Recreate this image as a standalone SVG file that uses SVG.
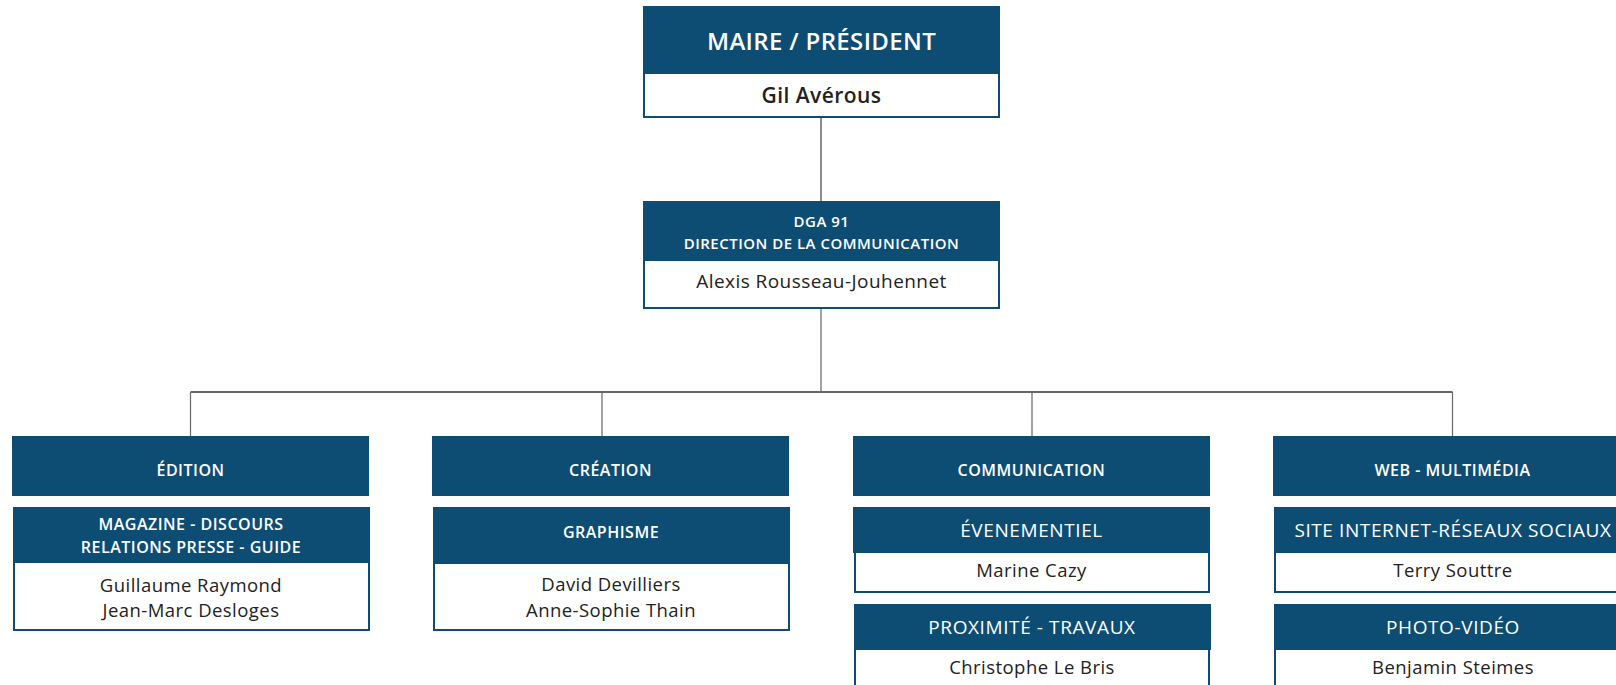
<svg xmlns="http://www.w3.org/2000/svg" width="1616" height="685" viewBox="0 0 1616 685">
<style>
.hd{fill:#0d4d74}
.bd{fill:#fff;stroke:#0d4d74;stroke-width:2}
text{font-family:"Open Sans","Noto Sans",sans-serif;text-anchor:middle}
.w{fill:#fff}
.b{font-weight:600;letter-spacing:0.5px}
.k{fill:#222;letter-spacing:0.45px}
.r{letter-spacing:0.6px}
.c{stroke:#666;fill:none}
</style>
<rect width="1616" height="685" fill="#fff"/>
<g id="connectors">
<line class="c" x1="821" y1="118" x2="821" y2="201" stroke-width="1.5"/>
<line class="c" x1="821" y1="309" x2="821" y2="392" stroke-width="1.2"/>
<line class="c" x1="190.5" y1="392" x2="1452.5" y2="392" stroke-width="2" stroke="#888"/>
<line class="c" x1="190.5" y1="392" x2="190.5" y2="436" stroke-width="1.2"/>
<line class="c" x1="602" y1="392" x2="602" y2="436" stroke-width="1.2"/>
<line class="c" x1="1032" y1="392" x2="1032" y2="436" stroke-width="1.2"/>
<line class="c" x1="1452.5" y1="392" x2="1452.5" y2="436" stroke-width="1.2"/>
</g>
<g id="maire">
<rect class="bd" x="644" y="70" width="355" height="47"/>
<rect class="hd" x="643" y="6" width="357" height="68"/>
<text class="w" x="821.5" y="50" font-size="24" font-weight="600" letter-spacing="0.35">MAIRE / PRÉSIDENT</text>
<text class="k" x="821.5" y="103" font-size="21" font-weight="600" letter-spacing="0.3">Gil Avérous</text>
</g>
<g id="dga">
<rect class="bd" x="644" y="258" width="355" height="50"/>
<rect class="hd" x="643" y="201" width="357" height="60"/>
<text class="w b" x="821.5" y="227" font-size="15" letter-spacing="0.8">DGA 91</text>
<text class="w b" x="821.5" y="249" font-size="15" letter-spacing="0.82">DIRECTION DE LA COMMUNICATION</text>
<text class="k" x="821.5" y="288" font-size="19" font-weight="500" letter-spacing="0.7">Alexis Rousseau-Jouhennet</text>
</g>
<g id="edition">
<rect class="hd" x="12" y="436" width="357" height="60"/>
<text class="w b" x="190.5" y="476" font-size="16">ÉDITION</text>
</g>
<g id="magazine">
<rect class="bd" x="14" y="560" width="355" height="70"/>
<rect class="hd" x="13" y="507" width="357" height="56"/>
<text class="w b" x="191" y="530" font-size="16">MAGAZINE - DISCOURS</text>
<text class="w b" x="191" y="553" font-size="16">RELATIONS PRESSE - GUIDE</text>
<text class="k" x="191" y="592" font-size="18.5">Guillaume Raymond</text>
<text class="k" x="191" y="617" font-size="18.5">Jean-Marc Desloges</text>
</g>
<g id="creation">
<rect class="hd" x="432" y="436" width="357" height="60"/>
<text class="w b" x="610.5" y="476" font-size="16">CRÉATION</text>
</g>
<g id="graphisme">
<rect class="bd" x="434" y="561" width="355" height="69"/>
<rect class="hd" x="433" y="507" width="357" height="57"/>
<text class="w b" x="611" y="538" font-size="16">GRAPHISME</text>
<text class="k" x="611" y="591" font-size="18.5">David Devilliers</text>
<text class="k" x="611" y="617" font-size="18.5">Anne-Sophie Thain</text>
</g>
<g id="communication">
<rect class="hd" x="853" y="436" width="357" height="60"/>
<text class="w b" x="1031.5" y="476" font-size="16">COMMUNICATION</text>
</g>
<g id="evenementiel">
<rect class="bd" x="855" y="550" width="354" height="42"/>
<rect class="hd" x="853" y="507" width="357" height="46"/>
<text class="w r" x="1031.5" y="537" font-size="19">ÉVENEMENTIEL</text>
<text class="k" x="1031.5" y="577" font-size="18.5">Marine Cazy</text>
</g>
<g id="proximite">
<rect class="bd" x="855" y="647" width="354" height="45"/>
<rect class="hd" x="854" y="604" width="357" height="46"/>
<text class="w r" x="1032" y="634" font-size="19">PROXIMITÉ - TRAVAUX</text>
<text class="k" x="1032" y="674" font-size="18.5">Christophe Le Bris</text>
</g>
<g id="web">
<rect class="hd" x="1273" y="436" width="360" height="60"/>
<text class="w b" x="1452.5" y="476" font-size="16">WEB - MULTIMÉDIA</text>
</g>
<g id="site">
<rect class="bd" x="1275" y="550" width="356" height="42"/>
<rect class="hd" x="1274" y="507" width="360" height="46"/>
<text class="w r" x="1453" y="537" font-size="19">SITE INTERNET-RÉSEAUX SOCIAUX</text>
<text class="k" x="1453" y="577" font-size="18.5">Terry Souttre</text>
</g>
<g id="photo">
<rect class="bd" x="1275" y="647" width="356" height="45"/>
<rect class="hd" x="1274" y="604" width="360" height="46"/>
<text class="w r" x="1453" y="634" font-size="19">PHOTO-VIDÉO</text>
<text class="k" x="1453" y="674" font-size="18.5">Benjamin Steimes</text>
</g>
</svg>
